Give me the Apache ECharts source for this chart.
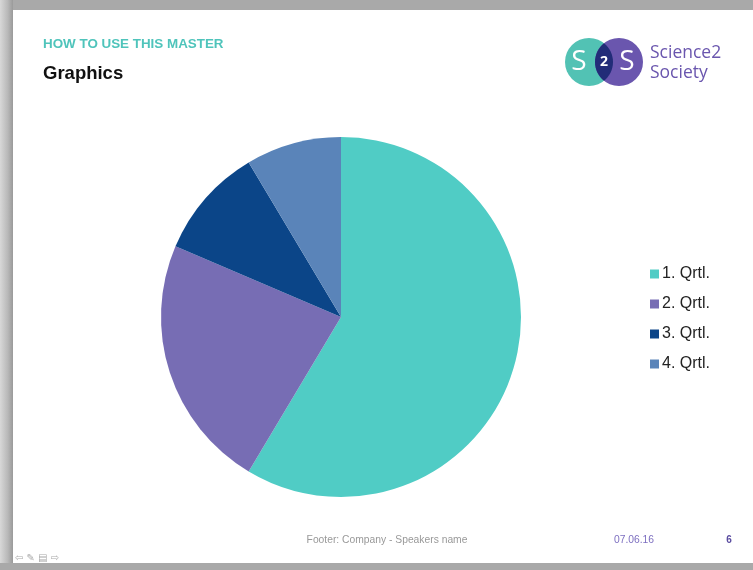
<!DOCTYPE html>
<html>
<head>
<meta charset="utf-8">
<script src="https://cdn.jsdelivr.net/npm/echarts@6/dist/echarts.min.js"></script>
<style>
  html, body { margin: 0; padding: 0; background: #fff; }
  #chart { width: 753px; height: 570px; }
</style>
</head>
<body>
<div id="chart"></div>
<script>
const categories = ['1. Qrtl.', '2. Qrtl.', '3. Qrtl.', '4. Qrtl.']
const values = [8.2, 3.2, 1.4, 1.2]
const colors = ['#50CCC5', '#776DB4', '#0B4588', '#5A84B9']

const chart = echarts.init(document.getElementById('chart'))

// lens shape where the two logo circles overlap
const lensPoints = (() => {
    const r = 24, c1 = 589, c2 = 619, cy = 62
    const pts = []
    const half = Math.acos((c2 - c1) / 2 / r)
    for (let i = 0; i <= 16; i++) {
        const a = -half + (2 * half * i) / 16
        pts.push([c1 + r * Math.cos(a), cy + r * Math.sin(a)])
    }
    for (let i = 0; i <= 16; i++) {
        const a = Math.PI - half + (2 * half * i) / 16
        pts.push([c2 + r * Math.cos(a), cy + r * Math.sin(a)])
    }
    return pts
})()

const font = 'Arial, "Liberation Sans", sans-serif'

// slide frame + header / footer decoration
const frame = [
    { type: 'rect', shape: { x: 0, y: 0, width: 753, height: 10 }, style: { fill: '#a9a9a9' }, z: 10 },
    { type: 'rect', shape: { x: 0, y: 0, width: 13, height: 570 },
      style: { fill: new echarts.graphic.LinearGradient(0, 0, 1, 0, [
          { offset: 0, color: '#d8d8d8' }, { offset: 0.6, color: '#b8b8b8' }, { offset: 1, color: '#9a9a9a' }]) }, z: 10 },
    { type: 'rect', shape: { x: 0, y: 563, width: 753, height: 7 }, style: { fill: '#a9a9a9' }, z: 10 },
    { type: 'text', x: 43, y: 44, style: { text: 'HOW TO USE THIS MASTER', fill: '#4FC4BB', font: 'bold 13.4px ' + font, verticalAlign: 'middle' } },
    { type: 'text', x: 43, y: 74, style: { text: 'Graphics', fill: '#111', font: 'bold 18.5px ' + font, verticalAlign: 'middle' } },
    // logo
    { type: 'circle', shape: { cx: 589, cy: 62, r: 24 }, style: { fill: '#52C2B4' } },
    { type: 'circle', shape: { cx: 619, cy: 62, r: 24 }, style: { fill: '#6A56AE' } },
    { type: 'polygon', shape: { points: lensPoints }, style: { fill: '#222C78' } },
    { type: 'text', x: 579, y: 62, style: { text: 'S', fill: '#fff', font: '28px "Open Sans", sans-serif', align: 'center', verticalAlign: 'middle' } },
    { type: 'text', x: 604, y: 62, style: { text: '2', fill: '#fff', font: 'bold 14px "Open Sans", sans-serif', align: 'center', verticalAlign: 'middle' } },
    { type: 'text', x: 627, y: 62, style: { text: 'S', fill: '#fff', font: '28px "Open Sans", sans-serif', align: 'center', verticalAlign: 'middle' } },
    { type: 'text', x: 650, y: 53, style: { text: 'Science2', fill: '#6A56AE', font: '500 17.5px "Open Sans", sans-serif', verticalAlign: 'middle' } },
    { type: 'text', x: 650, y: 73, style: { text: 'Society', fill: '#6A56AE', font: '500 17.5px "Open Sans", sans-serif', verticalAlign: 'middle' } },
    // footer
    { type: 'text', x: 387, y: 540, style: { text: 'Footer: Company - Speakers name', fill: '#999', font: '10.3px ' + font, align: 'center', verticalAlign: 'middle' } },
    { type: 'text', x: 634, y: 540, style: { text: '07.06.16', fill: '#7D6FC0', font: '10.3px ' + font, align: 'center', verticalAlign: 'middle' } },
    { type: 'text', x: 729, y: 540, style: { text: '6', fill: '#5A4CA0', font: 'bold 10px ' + font, align: 'center', verticalAlign: 'middle' } },
    // bottom-left nav icons
    { type: 'text', x: 15, y: 558, style: { text: '⇦ ✎ ▤ ⇨', fill: '#aaa', font: '10px "DejaVu Sans", sans-serif', verticalAlign: 'middle' }, z: 11 }
]

chart.setOption({
    animation: false,
    color: colors,
    graphic: frame,
    legend: {
        orient: 'vertical',
        left: 645,
        top: 261,
        itemWidth: 9,
        itemHeight: 9,
        itemGap: 14,
        icon: 'rect',
        textStyle: { fontSize: 16, color: '#222', fontFamily: font, padding: [0, 0, 0, -2] },
        data: categories
    },
    series: [{
        type: 'pie',
        center: [341, 317],
        radius: 180,
        startAngle: 90,
        clockwise: true,
        label: { show: false },
        labelLine: { show: false },
        data: categories.map((name, i) => ({ name, value: values[i] }))
    }]
})
</script>
</body>
</html>
